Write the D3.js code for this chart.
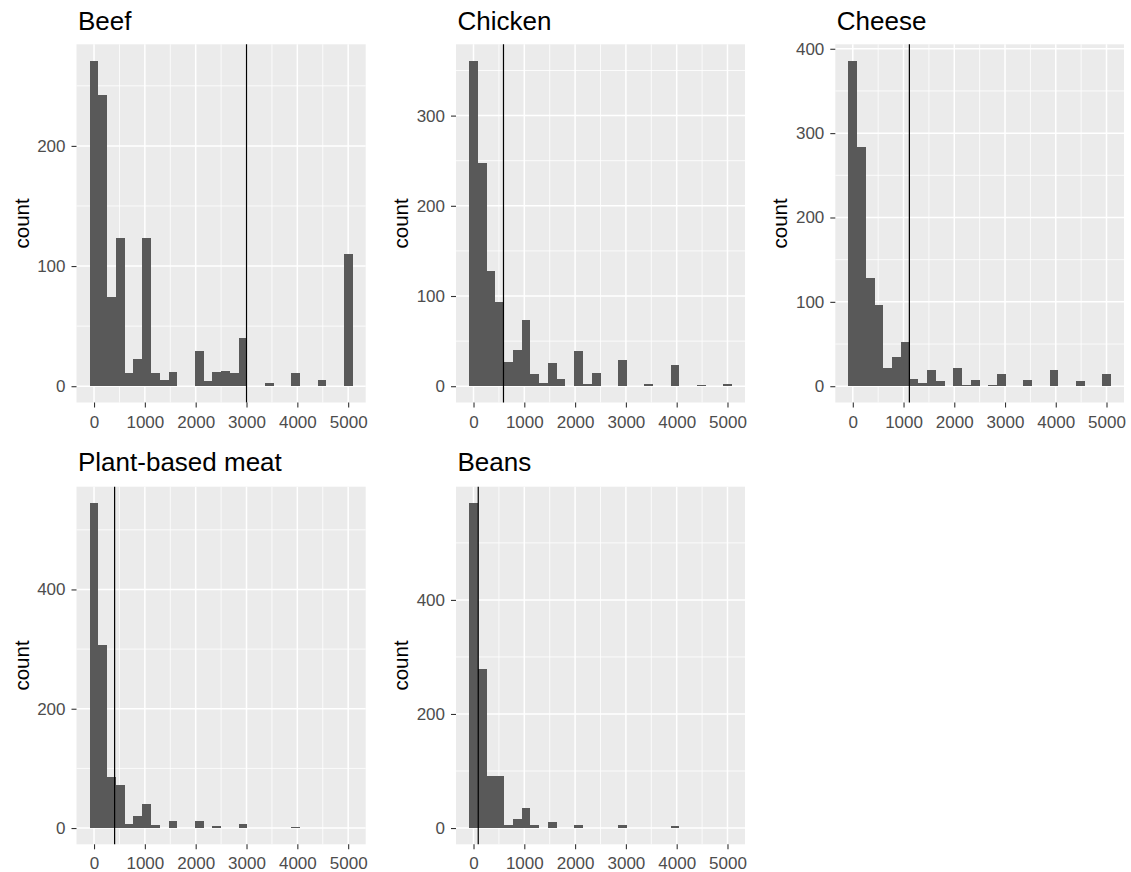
<!DOCTYPE html>
<html>
<head>
<meta charset="utf-8">
<script src="https://cdn.jsdelivr.net/npm/d3@7"></script>
<style>
  html, body { margin: 0; padding: 0; background: #ffffff; }
  svg { display: block; font-family: "Liberation Sans", Arial, sans-serif; }
</style>
</head>
<body>
<svg id="chart" width="1131" height="872"></svg>
<script>
// ---------------- DATA ----------------
const categories = ["Beef", "Chicken", "Cheese", "Plant-based meat", "Beans"];

// histogram bin centres (30 bins over 0..5000)
const binCenters = [0, 172.4, 344.8, 517.2, 689.7, 862.1, 1034.5, 1206.9, 1379.3, 1551.7,
  1724.1, 1896.6, 2069.0, 2241.4, 2413.8, 2586.2, 2758.6, 2931.0, 3103.4, 3275.9,
  3448.3, 3620.7, 3793.1, 3965.5, 4137.9, 4310.3, 4482.8, 4655.2, 4827.6, 5000.0];
const binWidth = 172.4;

const beefCounts    = [271, 242, 74, 123, 11, 23, 123, 11, 5, 12, 0, 0, 29, 4, 12, 13, 11, 40, 0, 0, 3, 0, 0, 11, 0, 0, 5, 0, 0, 110];
const chickenCounts = [361, 247, 128, 93, 27, 40, 73, 13, 4, 26, 8, 0, 39, 2, 15, 0, 0, 29, 0, 0, 3, 0, 0, 24, 0, 0, 1, 0, 0, 3];
const cheeseCounts  = [386, 284, 128, 96, 22, 35, 52, 9, 4, 19, 6, 0, 22, 2, 7, 0, 2, 14, 0, 0, 7, 0, 0, 19, 0, 0, 6, 0, 0, 14];
const plantCounts   = [545, 307, 85, 73, 7, 20, 41, 5, 0, 11, 0, 0, 11, 0, 3, 0, 0, 6, 0, 0, 0, 0, 0, 2, 0, 0, 0, 0, 0, 0];
const beansCounts   = [570, 278, 92, 92, 6, 16, 36, 6, 0, 11, 0, 0, 6, 0, 0, 0, 0, 6, 0, 0, 0, 0, 0, 3, 0, 0, 0, 0, 0, 0];
const seriesCounts = [beefCounts, chickenCounts, cheeseCounts, plantCounts, beansCounts];

// reference lines (vertical)
const refLines = [3000, 590, 1115, 405, 93];

// tick labels
const xTicks = [0, 1000, 2000, 3000, 4000, 5000];
const yTicksBeef = [0, 100, 200];
const yTicksChicken = [0, 100, 200, 300];
const yTicksCheese = [0, 100, 200, 300, 400];
const yTicksPlant = [0, 200, 400];
const yTicksBeans = [0, 200, 400];
const yTicksAll = [yTicksBeef, yTicksChicken, yTicksCheese, yTicksPlant, yTicksBeans];

// ---------------- LAYOUT ----------------
const panels = [
  { x0: 76.5, x1: 365.7, y0: 44.3, y1: 402.5, labelX: 28.5, titleY: 30 },
  { x0: 456,  x1: 745,   y0: 44.3, y1: 402.5, labelX: 408.3, titleY: 30 },
  { x0: 835.3, x1: 1124, y0: 44.3, y1: 402.5, labelX: 787,  titleY: 30 },
  { x0: 76.5, x1: 365.7, y0: 486.7, y1: 844.3, labelX: 28.5, titleY: 471 },
  { x0: 456,  x1: 745,   y0: 486.7, y1: 844.3, labelX: 408.3, titleY: 471 }
];

const svg = d3.select("#chart");
const barFill = "#595959";
const panelBg = "#EBEBEB";
const tickCol = "#333333";
const labelCol = "#4D4D4D";

categories.forEach((cat, i) => {
  const p = panels[i];
  const counts = seriesCounts[i];
  const data = binCenters.map((c, k) => ({ c, n: counts[k] }));

  const xMin = binCenters[0] - binWidth / 2;
  const xMax = binCenters[binCenters.length - 1] + binWidth / 2;
  const xPad = (xMax - xMin) * 0.05;
  const x = d3.scaleLinear().domain([xMin - xPad, xMax + xPad]).range([p.x0, p.x1]);

  const yMaxData = d3.max(counts);
  const yPad = yMaxData * 0.05;
  const y = d3.scaleLinear().domain([-yPad, yMaxData + yPad]).range([p.y1, p.y0]);

  const g = svg.append("g");

  // panel background
  g.append("rect")
    .attr("x", p.x0).attr("y", p.y0)
    .attr("width", p.x1 - p.x0).attr("height", p.y1 - p.y0)
    .attr("fill", panelBg);

  // minor grid
  const xMinor = xTicks.slice(0, -1).map((t, k) => (t + xTicks[k + 1]) / 2)
    .filter(v => v > x.domain()[0] && v < x.domain()[1]);
  const yT = yTicksAll[i];
  const yStep = yT[1] - yT[0];
  const yMinor = d3.range(yT[0] + yStep / 2, y.domain()[1], yStep);

  g.selectAll(".xminor").data(xMinor).enter().append("line")
    .attr("x1", d => x(d)).attr("x2", d => x(d))
    .attr("y1", p.y0).attr("y2", p.y1)
    .attr("stroke", "#ffffff").attr("stroke-width", 0.8);
  g.selectAll(".yminor").data(yMinor).enter().append("line")
    .attr("x1", p.x0).attr("x2", p.x1)
    .attr("y1", d => y(d)).attr("y2", d => y(d))
    .attr("stroke", "#ffffff").attr("stroke-width", 0.8);

  // major grid
  g.selectAll(".xmajor").data(xTicks).enter().append("line")
    .attr("x1", d => x(d)).attr("x2", d => x(d))
    .attr("y1", p.y0).attr("y2", p.y1)
    .attr("stroke", "#ffffff").attr("stroke-width", 1.5);
  g.selectAll(".ymajor").data(yT).enter().append("line")
    .attr("x1", p.x0).attr("x2", p.x1)
    .attr("y1", d => y(d)).attr("y2", d => y(d))
    .attr("stroke", "#ffffff").attr("stroke-width", 1.5);

  // bars
  g.selectAll(".bar").data(data.filter(d => d.n > 0)).enter().append("rect")
    .attr("x", d => x(d.c - binWidth / 2))
    .attr("width", d => x(d.c + binWidth / 2) - x(d.c - binWidth / 2))
    .attr("y", d => y(d.n))
    .attr("height", d => y(0) - y(d.n))
    .attr("fill", barFill)
    .attr("shape-rendering", "crispEdges");

  // reference line
  g.append("line")
    .attr("x1", x(refLines[i])).attr("x2", x(refLines[i]))
    .attr("y1", p.y0).attr("y2", p.y1)
    .attr("stroke", "#000000").attr("stroke-width", 1.2);

  // x axis
  const xAxis = d3.axisBottom(x).tickValues(xTicks).tickSize(5).tickPadding(8)
    .tickFormat(d3.format("d"));
  const gx = svg.append("g").attr("transform", `translate(0,${p.y1})`).call(xAxis);
  gx.select(".domain").remove();
  gx.selectAll(".tick line").attr("stroke", tickCol).attr("stroke-width", 1.1);
  gx.selectAll(".tick text").attr("fill", labelCol)
    .style("font-size", "17px").style("font-family", "'Liberation Sans', Arial, sans-serif");

  // y axis
  const yAxis = d3.axisLeft(y).tickValues(yT).tickSize(5).tickPadding(6)
    .tickFormat(d3.format("d"));
  const gy = svg.append("g").attr("transform", `translate(${p.x0},0)`).call(yAxis);
  gy.select(".domain").remove();
  gy.selectAll(".tick line").attr("stroke", tickCol).attr("stroke-width", 1.1);
  gy.selectAll(".tick text").attr("fill", labelCol)
    .style("font-size", "17px").style("font-family", "'Liberation Sans', Arial, sans-serif");

  // y label
  svg.append("text")
    .attr("transform", `translate(${p.labelX},${(p.y0 + p.y1) / 2}) rotate(-90)`)
    .attr("text-anchor", "middle")
    .attr("fill", "#000")
    .style("font-size", "20.5px")
    .text("count");

  // title
  svg.append("text")
    .attr("x", p.x0 + 1.5).attr("y", p.titleY)
    .attr("fill", "#000")
    .style("font-size", "26px")
    .text(cat);
});
</script>
</body>
</html>
